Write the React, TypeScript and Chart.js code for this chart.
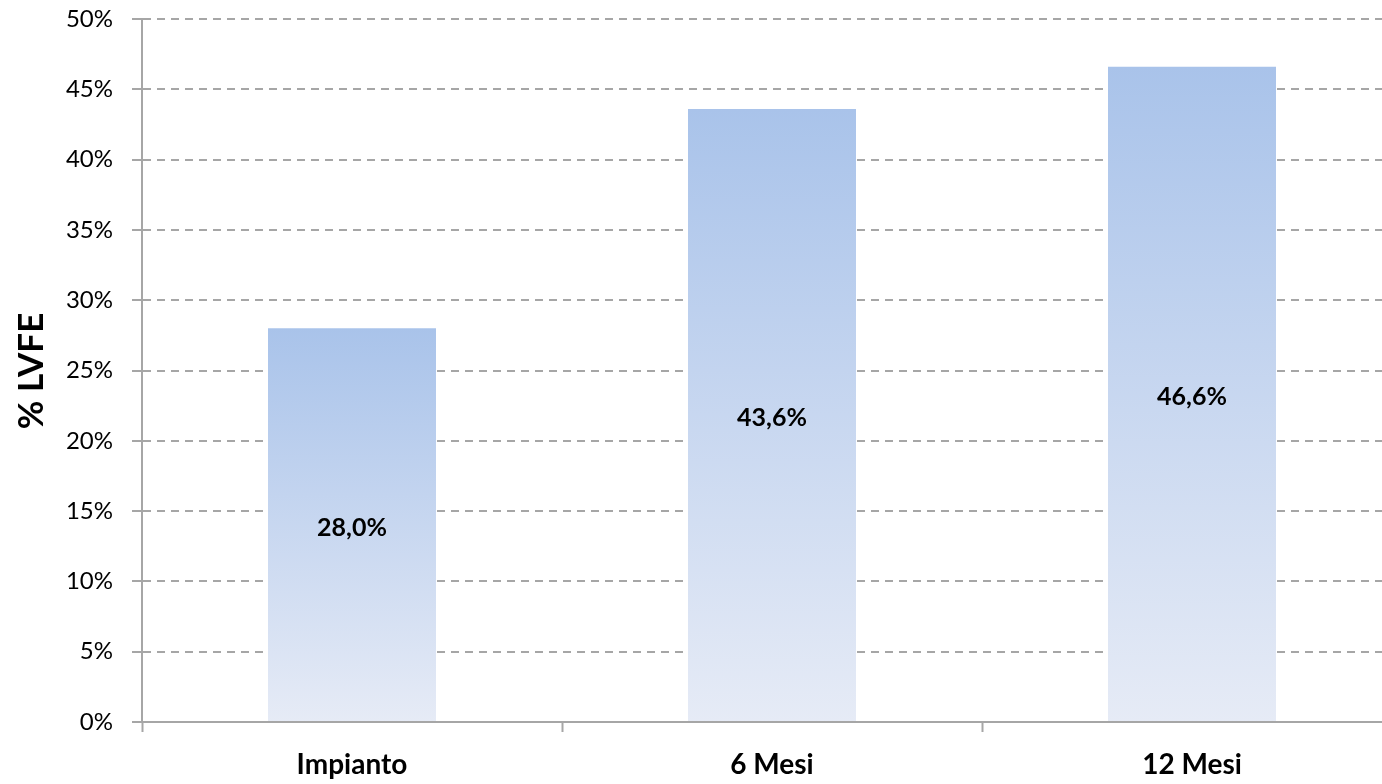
import React, { useEffect, useRef } from "react";
import { Chart, registerables } from "chart.js";

Chart.register(...registerables);

const categories = ["Impianto", "6 Mesi", "12 Mesi"];
const lvfeValues = [28.0, 43.6, 46.6];
const valueLabels = ["28,0%", "43,6%", "46,6%"];
const axisTitle = "% LVFE";

const GRID = "#a6a6a6";
const FONT = "Lato, 'Open Sans', sans-serif";

const valueLabelPlugin = {
  id: "valueLabels",
  afterDatasetsDraw(chart: any) {
    const ctx = chart.ctx;
    const meta = chart.getDatasetMeta(0);
    ctx.save();
    ctx.font = "bold 25px " + FONT;
    ctx.fillStyle = "#000";
    ctx.textAlign = "center";
    ctx.textBaseline = "middle";
    meta.data.forEach((bar: any, i: number) => {
      const y = (bar.y + bar.base) / 2 + 3;
      ctx.fillText(valueLabels[i], bar.x, y);
    });
    ctx.restore();
  },
};

const titlePlugin = {
  id: "yTitle",
  afterDraw(chart: any) {
    const ctx = chart.ctx;
    ctx.save();
    ctx.translate(32, 371);
    ctx.rotate(-Math.PI / 2);
    ctx.font = "bold 35px " + FONT;
    ctx.fillStyle = "#000";
    ctx.textAlign = "center";
    ctx.textBaseline = "middle";
    ctx.fillText(axisTitle, 0, 0);
    ctx.restore();
  },
};

export default function App() {
  const ref = useRef<HTMLCanvasElement>(null);
  useEffect(() => {
    const canvas = ref.current!;
    const chart = new Chart(canvas, {
      type: "bar",
      data: {
        labels: categories,
        datasets: [
          {
            data: lvfeValues,
            backgroundColor: (c: any) => {
              const chart = c.chart;
              const ys = chart.scales && chart.scales.y;
              if (!chart.chartArea || !ys || typeof c.raw !== "number") return "#c5d4ee";
              const top = ys.getPixelForValue(c.raw);
              const bottom = ys.getPixelForValue(0);
              const g = chart.ctx.createLinearGradient(0, top, 0, bottom);
              g.addColorStop(0, "#a9c3ea");
              g.addColorStop(1, "#e6ebf6");
              return g;
            },
            borderWidth: 0,
            barPercentage: 0.4,
            categoryPercentage: 1,
          },
        ],
      },
      options: {
        animation: false,
        responsive: false,
        maintainAspectRatio: false,
        layout: { padding: { top: 19, right: 2, left: 0, bottom: 0 } },
        plugins: { legend: { display: false }, tooltip: { enabled: false } },
        scales: {
          x: {
            offset: true,
            afterFit: (s: any) => {
              s.height = 62;
              s.paddingLeft = 0;
              s.paddingRight = 0;
            },
            grid: {
              offset: true,
              drawOnChartArea: false,
              drawTicks: true,
              tickLength: 10,
              tickColor: GRID,
              tickWidth: 2,
            },
            border: { display: true, color: GRID, width: 2 },
            ticks: {
              color: "#000",
              padding: 16,
              font: { family: FONT, size: 28, weight: "bold" },
            },
          },
          y: {
            min: 0,
            max: 50,
            afterFit: (s: any) => {
              s.width = 142;
              s.paddingTop = 0;
              s.paddingBottom = 0;
            },
            grid: {
              color: GRID,
              lineWidth: 2,
              drawTicks: true,
              tickLength: 10,
              tickColor: GRID,
              tickWidth: 2,
              tickBorderDash: [],
            },
            border: { display: true, color: GRID, width: 2, dash: [8, 6] },
            ticks: {
              stepSize: 5,
              color: "#000",
              padding: 19,
              font: { family: FONT, size: 24 },
              callback: (v: any) => v + "%",
            },
          },
        },
      },
      plugins: [valueLabelPlugin, titlePlugin],
    } as any);
    return () => chart.destroy();
  }, []);

  return (
    <div
      style={{
        position: "fixed",
        left: 0,
        top: 0,
        width: 1382,
        height: 784,
        overflow: "hidden",
        background: "#fff",
      }}
    >
      <canvas ref={ref} width={1404} height={784} style={{ display: "block", width: 1404, height: 784 }} />
    </div>
  );
}
